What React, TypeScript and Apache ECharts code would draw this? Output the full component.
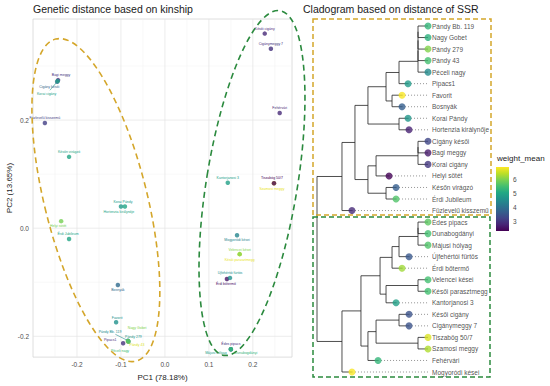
import React, { useEffect, useRef } from "react";
import * as echarts from "echarts";

// ---------- Left panel: PCA scatter ----------
const X_TICKS = [-0.2, -0.1, 0, 0.1, 0.2];
const X_MINOR = [-0.25, -0.15, -0.05, 0.05, 0.15, 0.25];
const Y_TICKS = [-0.2, 0, 0.2];
const Y_MINOR = [-0.1, 0.1, 0.3];
const X_RANGE = [-0.3, 0.289];
const Y_RANGE = [-0.2385, 0.387];

const pcaNames = [
  "Bagi meggy", "Cigány késői", "Korai cigány", "Füzlevelű kisszemű", "Későn virágzó",
  "Korai Pándy", "Hortenzia királynője", "Helyi sötét", "Érdi Jubileum", "Bosnyák",
  "Favorit", "Pipacs1", "Pándy Bb. 119", "Nagy Gobet", "Pándy 279", "Pándy 43", "Péceli nagy",
  "Késői cigány", "Cigánymeggy 7", "Fehérvári", "Kantorjanosi 3", "Szamosi meggy", "Tiszabög 50/7",
  "Mogyoródi kései", "Késői parasztmegg", "Velencei kései", "Érdi bőtermő", "Újfehértói fürtös",
  "Édes pipacs", "Májusi hólyag", "Dunabogdányi",
];
const pcaPC1 = [
  -0.243, -0.245, -0.244, -0.273, -0.218,
  -0.1, -0.091, -0.236, -0.218, -0.107,
  -0.111, -0.095, -0.084, -0.0835, -0.083, -0.084, -0.0838,
  0.227, 0.241, 0.261, 0.143, 0.248, 0.248,
  0.164, 0.17, 0.17, 0.141, 0.148,
  0.15, 0.15, 0.15,
];
const pcaPC2 = [
  0.274, 0.271, 0.272, 0.1945, 0.132,
  0.04, 0.04, 0.013, -0.02, -0.105,
  -0.174, -0.213, -0.208, -0.209, -0.21, -0.2095, -0.209,
  0.36, 0.332, 0.213, 0.084, 0.083, 0.083,
  -0.013, -0.048, -0.048, -0.094, -0.092,
  -0.224, -0.224, -0.224,
];
const pcaWeight = [
  3.0, 3.8, 4.9, 3.2, 5.0,
  4.8, 5.0, 5.9, 5.0, 3.9,
  4.6, 3.0, 4.5, 6.0, 4.7, 6.6, 5.4,
  2.9, 3.0, 2.9, 4.9, 6.7, 2.4,
  4.4, 6.7, 6.0, 2.6, 4.6,
  3.0, 4.9, 5.3,
];
// label placement relative to the point (px) — style only
const pcaLabelOffset: [number, number][] = [
  [3, -5], [-8, 5], [-11, 13], [0, -5], [0, -5],
  [2, -5], [-6, 5], [-3, 5], [-1, -5], [0, 5],
  [1, -4.5], [-13, -3], [-18, -9], [9, -13], [5, -5], [9, 4], [-8, 10],
  [0, -5], [0, -5], [0, -5], [0, -5], [-2, 6], [-2, -5],
  [0, 5], [0, 6], [0, -4.5], [-1, 5], [0, -5],
  [0, -5], [-15, 4], [15, 4],
];
const pcaLeader = [2, 12];

const ellipseCX = [-0.157, 0.198];
const ellipseCY = [0.052, 0.0835];

// ---------- Right panel: cladogram ----------
const tipNames = [
  "Pándy Bb. 119", "Nagy Gobet", "Pándy 279", "Pándy 43", "Péceli nagy", "Pipacs1", "Favorit",
  "Bosnyák", "Korai Pándy", "Hortenzia királynője", "Cigány késői", "Bagi meggy", "Korai cigány",
  "Helyi sötét", "Későn virágzó", "Érdi Jubileum", "Füzlevelű kisszemű", "Édes pipacs",
  "Dunabogdányi", "Májusi hólyag", "Újfehértói fürtös", "Érdi bőtermő", "Velencei kései",
  "Késői parasztmegg", "Kantorjanosi 3", "Késői cigány", "Cigánymeggy 7", "Tiszabög 50/7",
  "Szamosi meggy", "Fehérvári", "Mogyoródi kései",
];
const tipDepth = [
  1, 1, 1, 1, 1, 0.82, 0.766, 0.766, 0.82, 0.829, 1, 1, 1, 0.649, 0.712, 0.712, 0.315,
  1, 1, 1, 0.829, 0.766, 1, 1, 0.712, 0.829, 0.829, 1, 1, 0.55, 0.315,
];
const tipWeight = [
  5.3, 5.2, 6.0, 5.5, 4.5, 4.8, 6.8, 3.7, 4.7, 2.8, 3.3, 2.7, 3.1, 2.4, 3.7, 5.6, 2.9,
  5.7, 5.5, 5.6, 3.6, 6.2, 5.5, 5.5, 4.9, 3.5, 3.5, 6.6, 6.3, 5.3, 6.8,
];
const nodeDepth = [
  0.91, 0.91, 0.91, 0.91, 0.739, 0.676, 0.622, 0.739, 0.459, 0.91, 0.91, 0.532, 0.622, 0.459,
  0.342, 0.225, 0.91, 0.91, 0.739, 0.676, 0.91, 0.622, 0.568, 0.739, 0.91, 0.532, 0.459, 0.396,
  0.225, 0,
];
const nodeChildren: string[][] = [
  ["T0", "T1"], ["N0", "T2"], ["N1", "T3"], ["N2", "T4"], ["N3", "T5"], ["T6", "T7"],
  ["N4", "N5"], ["T8", "T9"], ["N6", "N7"], ["T10", "T11"], ["N9", "T12"], ["N10", "T13"],
  ["T14", "T15"], ["N11", "N12"], ["N8", "N13"], ["N14", "T16"], ["T17", "T18"], ["N16", "T19"],
  ["N17", "T20"], ["N18", "T21"], ["T22", "T23"], ["N20", "T24"], ["N19", "N21"], ["T25", "T26"],
  ["T27", "T28"], ["N23", "N24"], ["N25", "T29"], ["N22", "N26"], ["N27", "T30"], ["N15", "N28"],
];

const COLOR_RANGE = [2.37, 6.84];
const COLOR_TICKS = [3, 4, 5, 6];

// ---------- helpers ----------
const FONT = "'Liberation Sans', Arial, Helvetica, sans-serif";
const GOLD = "#D4A62A";
const GREEN = "#2B8A3E";
const VIRIDIS = ["#440154", "#482475", "#414487", "#355F8D", "#2A788E", "#21918C", "#22A884", "#44BF70", "#7AD151", "#BDDF26", "#FDE725"];

function hex(h: string) {
  return [parseInt(h.slice(1, 3), 16), parseInt(h.slice(3, 5), 16), parseInt(h.slice(5, 7), 16)];
}
function viridis(v: number) {
  let t = (v - COLOR_RANGE[0]) / (COLOR_RANGE[1] - COLOR_RANGE[0]);
  t = Math.max(0, Math.min(1, t));
  const s = t * 10;
  const i = Math.min(9, Math.floor(s));
  const f = s - i;
  const a = hex(VIRIDIS[i]);
  const b = hex(VIRIDIS[i + 1]);
  const c = a.map((x, k) => Math.round(x + (b[k] - x) * f));
  return `rgb(${c[0]},${c[1]},${c[2]})`;
}

function buildTree() {
  const nodeY: number[] = [];
  const refY = (r: string): number => {
    const k = +r.slice(1);
    if (r[0] === "T") return k;
    if (nodeY[k] === undefined) {
      const [a, b] = nodeChildren[k];
      nodeY[k] = (refY(a) + refY(b)) / 2;
    }
    return nodeY[k];
  };
  const refD = (r: string) => (r[0] === "T" ? tipDepth[+r.slice(1)] : nodeDepth[+r.slice(1)]);
  const segs: number[][] = [];
  nodeChildren.forEach((ch, k) => {
    const d = nodeDepth[k];
    const ys = ch.map(refY);
    segs.push([d, Math.min(...ys), d, Math.max(...ys)]);
    ch.forEach((c) => {
      const y = refY(c);
      segs.push([d, y, refD(c), y]);
    });
  });
  const dots: number[][] = [];
  tipDepth.forEach((d, i) => {
    if (d < 1) dots.push([d, i, 1, i]);
  });
  return { segs, dots };
}

function buildOption() {
  const { segs, dots } = buildTree();
  const gridLines: number[][] = [
    ...X_MINOR.map((v) => [v, 0, 0]),
    ...Y_MINOR.map((v) => [v, 1, 0]),
    ...X_TICKS.map((v) => [v, 0, 1]),
    ...Y_TICKS.map((v) => [v, 1, 1]),
  ];
  const near = (v: number, arr: number[]) => arr.some((a) => Math.abs(a - v) < 1e-6);
  const segRender = (color: string, dash: number[] | null, width: number) => (params: any, api: any) => {
    const a = api.coord([api.value(0), api.value(1)]);
    const b = api.coord([api.value(2), api.value(3)]);
    return {
      type: "line",
      shape: { x1: a[0], y1: a[1], x2: b[0], y2: b[1] },
      style: { stroke: color, lineWidth: width, lineDash: dash || undefined, lineCap: "butt" },
    };
  };
  const titleStyle = { fontSize: 10.5, fill: "#1a1a1a", fontFamily: FONT, verticalAlign: "top", align: "left", textVerticalAlign: "top", textAlign: "left" };

  return {
    animation: false,
    backgroundColor: "#ffffff",
    textStyle: { fontFamily: FONT },
    grid: [
      { left: 33, top: 19, width: 259, height: 341, show: true, borderColor: "#d6d6d6", borderWidth: 0.8, backgroundColor: "transparent" },
      { left: 317, top: 26, width: 111, height: 346 },
      { left: 496, top: 167, width: 13, height: 64 },
    ],
    xAxis: [
      {
        gridIndex: 0, type: "value", min: X_RANGE[0], max: X_RANGE[1], interval: 0.1,
        name: "PC1 (78.18%)", nameLocation: "middle", nameGap: 12,
        nameTextStyle: { fontSize: 8, color: "#1a1a1a", fontFamily: FONT },
        axisLine: { show: false }, axisTick: { show: false }, splitLine: { show: false },
        axisLabel: {
          fontSize: 6.5, color: "#4d4d4d", margin: 4, showMinLabel: false, showMaxLabel: false,
          formatter: (v: number) => (near(v, X_TICKS) ? v.toFixed(1) : ""),
        },
      },
      { gridIndex: 1, type: "value", min: 0, max: 1, show: false },
      { gridIndex: 2, type: "value", min: 0, max: 1, show: false },
    ],
    yAxis: [
      {
        gridIndex: 0, type: "value", min: Y_RANGE[0], max: Y_RANGE[1], splitNumber: 3,
        name: "PC2 (13.65%)", nameLocation: "middle", nameGap: 17,
        nameTextStyle: { fontSize: 8, color: "#1a1a1a", fontFamily: FONT },
        axisLine: { show: false }, axisTick: { show: false }, splitLine: { show: false },
        axisLabel: {
          fontSize: 6.5, color: "#4d4d4d", margin: 4, showMinLabel: false, showMaxLabel: false,
          formatter: (v: number) => (near(v, Y_TICKS) ? v.toFixed(1) : ""),
        },
      },
      { gridIndex: 1, type: "value", min: 0, max: tipNames.length - 1, inverse: true, show: false },
      {
        gridIndex: 2, type: "value", min: COLOR_RANGE[0], max: COLOR_RANGE[1], position: "right", z: 10,
        axisLine: { show: false }, splitLine: { show: false },
        axisTick: { show: true, inside: true, length: 2.5, lineStyle: { color: "#ffffff", width: 0.8 } },
        axisLabel: {
          fontSize: 6.5, color: "#4d4d4d", margin: 4, showMinLabel: false, showMaxLabel: false,
          formatter: (v: number) => (near(v, COLOR_TICKS) ? String(Math.round(v)) : ""),
        },
      },
    ],
    graphic: [
      { type: "text", z: 10, x: 33, y: 3, style: { ...titleStyle, text: "Genetic distance based on kinship" } },
      { type: "text", z: 10, x: 303, y: 3, style: { ...titleStyle, text: "Cladogram based on distance of SSR" } },
      { type: "rect", z: 10, shape: { x: 313, y: 19, width: 178, height: 196 }, style: { fill: "none", stroke: GOLD, lineWidth: 1.5, lineDash: [5, 3] } },
      { type: "rect", z: 10, shape: { x: 313, y: 217, width: 177, height: 160 }, style: { fill: "none", stroke: GREEN, lineWidth: 1.5, lineDash: [5, 3] } },
      { type: "text", z: 10, x: 497, y: 158, style: { text: "weight_mean", fontSize: 8, fill: "#1a1a1a", fontFamily: FONT, verticalAlign: "middle", align: "left" } },
    ],
    series: [
      // PCA grid lines
      {
        type: "custom", xAxisIndex: 0, yAxisIndex: 0, silent: true, z: 1,
        data: gridLines,
        renderItem: (params: any, api: any) => {
          const cs = params.coordSys;
          const v = api.value(0);
          const dir = api.value(1);
          const major = api.value(2);
          const style = { stroke: major ? "#e4e4e4" : "#f1f1f1", lineWidth: major ? 0.7 : 0.5 };
          if (dir === 0) {
            const x = api.coord([v, 0])[0];
            return { type: "line", shape: { x1: x, y1: cs.y, x2: x, y2: cs.y + cs.height }, style };
          }
          const y = api.coord([0, v])[1];
          return { type: "line", shape: { x1: cs.x, y1: y, x2: cs.x + cs.width, y2: y }, style };
        },
      },
      // leader lines
      {
        type: "custom", xAxisIndex: 0, yAxisIndex: 0, silent: true, z: 3,
        data: pcaLeader.map((i) => [pcaPC1[i], pcaPC2[i], i]),
        renderItem: (params: any, api: any) => {
          const i = api.value(2);
          const p = api.coord([api.value(0), api.value(1)]);
          const o = pcaLabelOffset[i];
          return {
            type: "line",
            shape: { x1: p[0], y1: p[1], x2: p[0] + o[0] * 0.7, y2: p[1] + o[1] * 0.7 },
            style: { stroke: viridis(pcaWeight[i]), lineWidth: 0.6 },
          };
        },
      },
      // PCA points
      {
        type: "scatter", xAxisIndex: 0, yAxisIndex: 0, clip: false, symbolSize: 4.5, z: 4,
        data: pcaNames.map((n, i) => ({
          name: n,
          value: [pcaPC1[i], pcaPC2[i], pcaWeight[i]],
          itemStyle: { color: viridis(pcaWeight[i]) },
        })),
      },
      // PCA labels (tiny text, drawn scaled so the browser does not clamp size)
      {
        type: "custom", xAxisIndex: 0, yAxisIndex: 0, silent: true, clip: false, z: 5,
        data: pcaNames.map((n, i) => [pcaPC1[i], pcaPC2[i], i]),
        renderItem: (params: any, api: any) => {
          const i = api.value(2);
          const p = api.coord([api.value(0), api.value(1)]);
          const o = pcaLabelOffset[i];
          return {
            type: "text",
            x: p[0] + o[0],
            y: p[1] + o[1],
            scaleX: 0.5,
            scaleY: 0.5,
            style: {
              text: pcaNames[i], fontSize: 7, fontFamily: FONT, fill: viridis(pcaWeight[i]),
              align: "center", verticalAlign: "middle", textAlign: "center", textVerticalAlign: "middle",
            },
          };
        },
      },
      // ellipses
      {
        type: "custom", xAxisIndex: 0, yAxisIndex: 0, silent: true, clip: false, z: 6,
        data: ellipseCX.map((x, i) => [x, ellipseCY[i], i]),
        renderItem: (params: any, api: any) => {
          const i = api.value(2);
          const p = api.coord([api.value(0), api.value(1)]);
          const rx = i === 0 ? 51.3 : 45.5;
          const ry = i === 0 ? 166 : 174.6;
          const rot = i === 0 ? 0.244 : -0.162;
          return {
            type: "ellipse", x: p[0], y: p[1], rotation: rot,
            shape: { cx: 0, cy: 0, rx, ry },
            style: { fill: "none", stroke: i === 0 ? GOLD : GREEN, lineWidth: 1.6, lineDash: [6, 4] },
          };
        },
      },
      // tree dotted lines
      {
        type: "custom", xAxisIndex: 1, yAxisIndex: 1, silent: true, clip: false, z: 2,
        data: dots, renderItem: segRender("#666666", [1, 2], 0.7),
      },
      // tree edges
      {
        type: "custom", xAxisIndex: 1, yAxisIndex: 1, silent: true, clip: false, z: 3,
        data: segs, renderItem: segRender("#222222", null, 0.8),
      },
      // tip circles
      {
        type: "scatter", xAxisIndex: 1, yAxisIndex: 1, clip: false, symbolSize: 7, z: 4,
        data: tipNames.map((n, i) => ({ name: n, value: [tipDepth[i], i], itemStyle: { color: viridis(tipWeight[i]) } })),
      },
      // tip labels
      {
        type: "scatter", xAxisIndex: 1, yAxisIndex: 1, clip: false, symbolSize: 1, z: 5, silent: true,
        itemStyle: { color: "rgba(0,0,0,0)" },
        data: tipNames.map((n, i) => ({ name: n, value: [1, i] })),
        label: { show: true, position: "right", distance: 3.5, formatter: "{b}", fontSize: 6.5, color: "#222222", fontFamily: FONT },
      },
      // colour bar
      {
        type: "custom", xAxisIndex: 2, yAxisIndex: 2, silent: true, clip: false, z: 2,
        data: [[0, COLOR_RANGE[0], 1, COLOR_RANGE[1]]],
        renderItem: (params: any, api: any) => {
          const a = api.coord([api.value(0), api.value(3)]);
          const b = api.coord([api.value(2), api.value(1)]);
          return {
            type: "rect",
            shape: { x: a[0], y: a[1], width: b[0] - a[0], height: b[1] - a[1] },
            style: {
              fill: new echarts.graphic.LinearGradient(0, 1, 0, 0, VIRIDIS.map((c, k) => ({ offset: k / 10, color: c }))),
            },
          };
        },
      },
    ],
  };
}

export default function App() {
  const ref = useRef<HTMLDivElement>(null);
  useEffect(() => {
    if (!ref.current) return;
    const chart = echarts.init(ref.current, undefined, { renderer: "svg" });
    chart.setOption(buildOption() as any);
    return () => chart.dispose();
  }, []);
  return <div ref={ref} style={{ position: "absolute", left: 0, top: 0, width: 550, height: 386 }} />;
}
